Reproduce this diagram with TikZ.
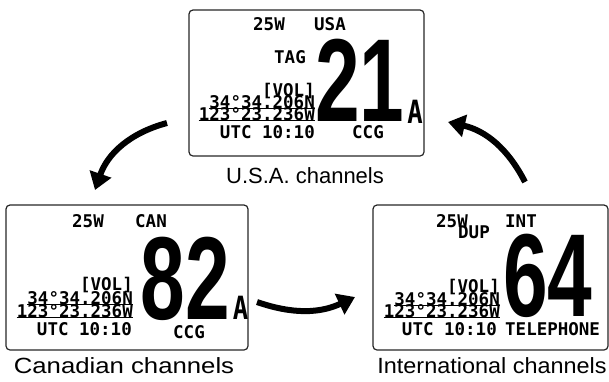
\documentclass[tikz,border=0pt]{standalone}
\usepackage{fontspec}
\usepackage{graphicx}
\setmainfont{Liberation Sans}
\newfontfamily\lcdfont{DejaVu Sans Mono}
\newfontfamily\bigfont{Liberation Sans}
\usetikzlibrary{arrows.meta}
\newcommand\bigdig[1]{\scalebox{0.68}[1]{\bigfont\bfseries\fontsize{118}{118}\selectfont #1}}
\newcommand\bigA{\scalebox{0.8}[1]{\lcdfont\bfseries\fontsize{32}{32}\selectfont A}}
\newcommand\capt[2]{\scalebox{#1}[1]{#2}}
\tikzset{
  lcd/.style={inner sep=0pt, font=\lcdfont\bfseries\fontsize{17.5}{17.5}\selectfont},
  screen/.style={draw=black!85, line width=1.2pt, rounded corners=4pt},
  caption/.style={inner sep=0pt, font=\fontsize{22}{22}\selectfont},
  bignum/.style={inner sep=0pt},
  uline/.style={line width=0.7pt},
  bigarrow/.style={line width=6pt, -{Triangle[length=17pt,width=22pt]}},
}
\begin{document}
\begin{tikzpicture}[x=1pt,y=-1pt]
\useasboundingbox (0,0) rectangle (609,381);
% ---------- top: USA ----------
\draw[screen] (189,10) rectangle (424,156);
\node[lcd,anchor=base west] (t25) at (253,30) {25W};
\node[lcd,anchor=base west] (tusa) at (314,30) {USA};
\node[lcd,anchor=base west] (ttag) at (274,63) {TAG};
\node[lcd,anchor=base east] (tvol) at (315,96) {[VOL]};
\node[lcd,anchor=base east] (tlat) at (315,108) {34°34.206N};
\node[lcd,anchor=base east] (tlon) at (315,120) {123°23.236W};
\node[lcd,anchor=base east] (tutc) at (315,138) {UTC 10:10};
\node[lcd,anchor=base west] (tccg) at (352,138) {CCG};
\node[bignum] (tnum) at (360,80.5) {\bigdig{21}};
\node[bignum] (ta) at (415,111.5) {\bigA};
\draw[uline] (tlat.south west) -- (tlat.south east);
\draw[uline] (tlon.south west) -- (tlon.south east);
\node[caption] (tcap) at (305,176) {U.S.A. channels};
% ---------- left: CAN ----------
\draw[screen] (6,205) rectangle (248,350);
\node[lcd,anchor=base west] (l25) at (72,227) {25W};
\node[lcd,anchor=base west] (lcan) at (135,227) {CAN};
\node[lcd,anchor=base east] (lvol) at (133,290) {[VOL]};
\node[lcd,anchor=base east] (llat) at (133,304) {34°34.206N};
\node[lcd,anchor=base east] (llon) at (133,317) {123°23.236W};
\node[lcd,anchor=base east] (lutc) at (132,335) {UTC 10:10};
\node[lcd,anchor=base west] (lccg) at (173,338) {CCG};
\node[bignum] (lnum) at (185.5,279) {\bigdig{82}};
\node[bignum] (la) at (240.5,307.5) {\bigA};
\draw[uline] (llat.south west) -- (llat.south east);
\draw[uline] (llon.south west) -- (llon.south east);
\node[caption] (lcap) at (124,366) {\capt{1.17}{Canadian channels}};
% ---------- right: INT ----------
\draw[screen] (373,205) rectangle (608,350);
\node[lcd,anchor=base west] (r25) at (436,227) {25W};
\node[lcd,anchor=base west] (rint) at (505,227) {INT};
\node[lcd,anchor=base west] (rdup) at (458,238) {DUP};
\node[lcd,anchor=base east] (rvol) at (500,292) {[VOL]};
\node[lcd,anchor=base east] (rlat) at (500,305) {34°34.206N};
\node[lcd,anchor=base east] (rlon) at (500,317) {123°23.236W};
\node[lcd,anchor=base east] (rutc) at (497,335) {UTC 10:10};
\node[lcd,anchor=base west] (rtel) at (505,335) {TELEPHONE};
\node[bignum] (rnum) at (548,276) {\bigdig{64}};
\draw[uline] (rlat.south west) -- (rlat.south east);
\draw[uline] (rlon.south west) -- (rlon.south east);
\node[caption] (rcap) at (492,366) {\capt{1.065}{International channels}};
% ---------- arrows ----------
\coordinate (a1s) at (167,123);
\coordinate (a1e) at (95,190);
\coordinate (a2s) at (257,302);
\coordinate (a2e) at (355,297);
\coordinate (a3s) at (525,182);
\coordinate (a3e) at (448,122);
\draw[bigarrow] (a1s) to[bend right=28] (a1e);
\draw[bigarrow] (a2s) to[bend right=22] (a2e);
\draw[bigarrow] (a3s) to[bend right=25] (a3e);
\end{tikzpicture}
\end{document}
